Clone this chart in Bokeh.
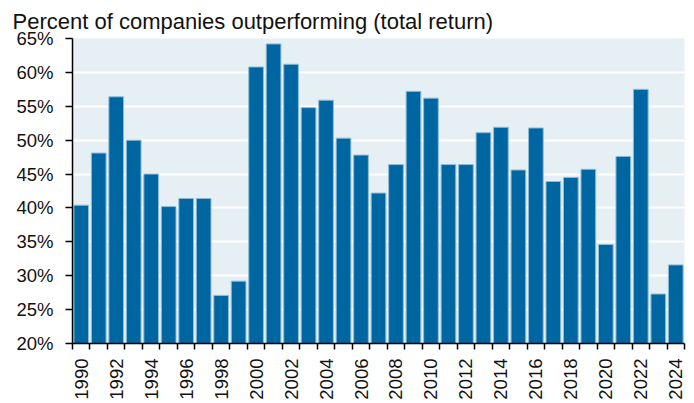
from math import pi
from bokeh.plotting import figure
from bokeh.models import FixedTicker, CustomJSTickFormatter, Range1d
from bokeh.embed import file_html
from bokeh.resources import INLINE

years = list(range(1990, 2025))
pct = [40.4, 48.1, 56.4, 50.0, 45.0, 40.2, 41.4, 41.4, 27.1, 29.2,
       60.8, 64.2, 61.2, 54.8, 55.9, 50.3, 47.8, 42.2, 46.4, 57.2,
       56.2, 46.4, 46.4, 51.1, 51.9, 45.6, 51.8, 43.9, 44.5, 45.7,
       34.6, 47.6, 57.5, 27.3, 31.6]
y_ticks = [20, 25, 30, 35, 40, 45, 50, 55, 60, 65]
label_years = years[::2]
title_text = "Percent of companies outperforming (total return)"

FONT = "Liberation Sans"

p = figure(width=686, height=402, output_backend="svg", toolbar_location=None,
           x_range=Range1d(years[0] - 0.5, years[-1] + 0.5),
           y_range=Range1d(y_ticks[0], y_ticks[-1]),
           min_border_left=72, min_border_right=2, min_border_top=38, min_border_bottom=57)

p.title.text = title_text
p.title.text_font = FONT
p.title.text_font_size = "22px"
p.title.text_font_style = "normal"
p.title.text_color = "#111111"
p.title.align = "left"
p.title.offset = -60
p.title.standoff = 10

p.background_fill_color = "#e6eff3"
p.border_fill_color = "white"
p.outline_line_color = None

p.vbar(x=years, top=pct, bottom=y_ticks[0], width=0.84,
       fill_color="#0066a1", line_color="#8dbcd8", line_width=1)

# grid
p.xgrid.visible = False
p.ygrid.ticker = FixedTicker(ticks=y_ticks)
p.ygrid.grid_line_color = "white"
p.ygrid.grid_line_width = 2

# y axis
p.yaxis.ticker = FixedTicker(ticks=y_ticks)
p.yaxis.formatter = CustomJSTickFormatter(code="return tick.toFixed(0) + '%';")
p.yaxis.major_label_text_font = FONT
p.yaxis.major_label_text_font_size = "18.5px"
p.yaxis.major_label_text_color = "#111111"
p.yaxis.major_tick_out = 7
p.yaxis.major_tick_in = 0
p.yaxis.minor_tick_line_color = None
p.yaxis.axis_line_width = 1.5
p.yaxis.axis_line_color = "black"
p.yaxis.major_tick_line_width = 1.5
p.yaxis.major_label_standoff = 12

# x axis: labels at even years, ticks at bar boundaries
bounds = [y - 0.5 for y in years] + [years[-1] + 0.5]
p.xaxis.ticker = FixedTicker(ticks=label_years, minor_ticks=bounds)
p.xaxis.formatter = CustomJSTickFormatter(code="return tick.toFixed(0);")
p.xaxis.major_label_orientation = pi / 2
p.xaxis.major_label_text_font = FONT
p.xaxis.major_label_text_font_size = "18.5px"
p.xaxis.major_label_text_color = "#111111"
p.xaxis.major_tick_line_color = None
p.xaxis.minor_tick_out = 6
p.xaxis.minor_tick_in = 0
p.xaxis.minor_tick_line_width = 1.5
p.xaxis.minor_tick_line_color = "black"
p.xaxis.axis_line_width = 1.5
p.xaxis.axis_line_color = "black"
p.xaxis.major_label_standoff = 9

open("out.html", "w").write(file_html(p, INLINE))
